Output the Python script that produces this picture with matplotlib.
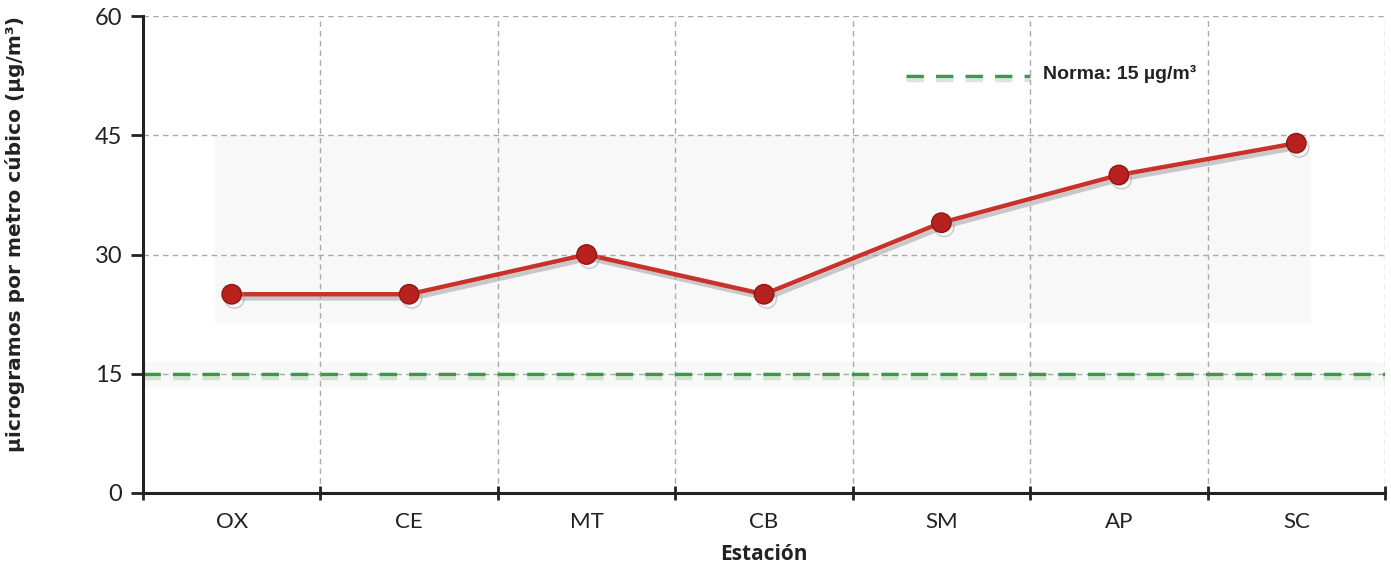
import numpy as np
import matplotlib
matplotlib.use("Agg")
import matplotlib.pyplot as plt
import matplotlib.patheffects as pe

estaciones = ["OX", "CE", "MT", "CB", "SM", "AP", "SC"]
pm_valores = [25, 25, 30, 25, 34, 40, 44]
norma = 15
y_ticks = [0, 15, 30, 45, 60]

fig = plt.figure(figsize=(13.91, 5.70), dpi=100)
ax = fig.add_axes([0.1028, 0.1351, 0.8929, 0.8368])

x = np.arange(len(estaciones))
ax.set_xlim(-0.5, len(estaciones) - 0.5)
ax.set_ylim(0, 60)

# soft band behind the series, like the original
ax.axhspan(21.5, 45, xmin=0.058, xmax=0.94, color="#f8f8f8", zorder=0)
ax.axhspan(13.5, 16.5, color="#f6f9f6", zorder=0)

# grid
ax.set_xticks(x)
ax.set_xticks(np.arange(-0.5, len(estaciones)), minor=True)
ax.set_yticks(y_ticks)
ax.grid(True, which="minor", axis="x", linestyle=(0, (4, 3)), color="#aaaaaa", lw=1)
ax.grid(True, which="major", axis="y", linestyle=(0, (4, 3)), color="#aaaaaa", lw=1)
ax.set_axisbelow(True)

# norm line
shadow = [pe.SimpleLineShadow(offset=(0, -3), shadow_color="#b8c8b8", alpha=0.5), pe.Normal()]
ax.axhline(norma, color="#3a9a4a", lw=2.5, linestyle=(0, (5, 3.5)), zorder=2, path_effects=shadow)

# data line
ax.plot(x, pm_valores, color="#c8322a", lw=3.2, marker="o", ms=14,
        markerfacecolor="#b8221e", markeredgecolor="#8e1512", zorder=3,
        path_effects=[pe.SimpleLineShadow(offset=(2, -3), shadow_color="#999999", alpha=0.5), pe.Normal()])

# legend entry
ax.plot([0.614, 0.714], [0.875, 0.875], transform=ax.transAxes, color="#3a9a4a", lw=2.5,
        linestyle=(0, (5, 3.5)), path_effects=shadow, clip_on=False)
ax.text(0.725, 0.879, "Norma: 15 µg/m³", transform=ax.transAxes, fontsize=14,
        fontweight="bold", family=["Liberation Sans Narrow", "Liberation Sans", "DejaVu Sans"],
        va="center", ha="left", color="#222222")

# spines / ticks
for s in ["top", "right"]:
    ax.spines[s].set_visible(False)
for s in ["left", "bottom"]:
    ax.spines[s].set_linewidth(2.2)
    ax.spines[s].set_color("#222222")

ax.tick_params(axis="x", which="major", length=0, pad=14, labelcolor="#222222")
ax.tick_params(axis="x", which="minor", length=10, width=2, direction="inout", color="#222222")
ax.tick_params(axis="y", length=9, width=2, direction="out", color="#222222", pad=6,
               labelcolor="#222222")

ax.set_xticklabels(estaciones, fontsize=16, family="Lato")
ax.set_yticklabels([str(v) for v in y_ticks], fontsize=17, family="Lato")

ax.set_xlabel("Estación", fontsize=15, fontweight="bold", family="Open Sans", labelpad=8,
              color="#222222")
fig.text(0.011, 0.59, "µicrogramos por metro cúbico (µg/m³)", rotation=90, fontsize=14.5,
         fontweight="bold", family="DejaVu Sans", ha="center", va="center", color="#222222")

fig.savefig("out.png", dpi=100)
